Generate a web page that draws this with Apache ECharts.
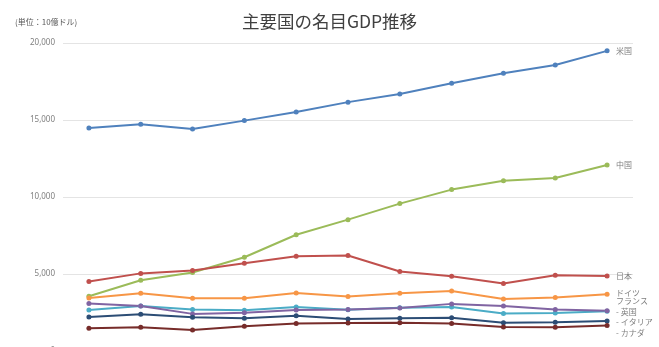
<!DOCTYPE html>
<html><head><meta charset="utf-8">
<script src="https://cdn.jsdelivr.net/npm/echarts@6/dist/echarts.min.js"></script>
<style>html,body{margin:0;padding:0;background:#fff}#c{width:659px;height:347px}</style>
</head><body><div id="c"></div>
<script>
const years = ['2007','2008','2009','2010','2011','2012','2013','2014','2015','2016','2017'];
const usa     = [14480,14720,14420,14960,15520,16160,16690,17390,18040,18570,19490];
const china   = [3550,4590,5100,6090,7550,8530,9570,10480,11060,11230,12080];
const japan   = [4520,5040,5230,5700,6160,6200,5160,4850,4390,4920,4870];
const germany = [3440,3750,3420,3420,3760,3540,3750,3890,3380,3480,3680];
const uk      = [3090,2920,2410,2480,2660,2700,2790,3060,2930,2690,2620];
const france  = [2660,2920,2690,2640,2860,2680,2810,2850,2440,2470,2580];
const italy   = [2210,2390,2190,2130,2290,2070,2130,2160,1830,1870,1940];
const canada  = [1470,1550,1370,1610,1790,1820,1840,1790,1560,1540,1650];
const yTicks = [0, 5000, 10000, 15000, 20000];

const seriesDefs = [
  {name:'米国', data:usa, color:'#4f81bd', off:[0,0]},
  {name:'中国', data:china, color:'#9bbb59', off:[0,0]},
  {name:'日本', data:japan, color:'#c0504d', off:[0,0]},
  {name:'ドイツ', data:germany, color:'#f79646', off:[0,-1]},
  {name:'フランス', data:france, color:'#4bacc6', off:[0,-10], label:'フランス'},
  {name:'英国', data:uk, color:'#8064a2', off:[0,1], label:'- 英国'},
  {name:'イタリア', data:italy, color:'#2c4d75', off:[0,1], label:'- イタリア'},
  {name:'カナダ', data:canada, color:'#772c2a', off:[0,7], label:'- カナダ'}
];

const chart = echarts.init(document.getElementById('c'));
chart.setOption({
  animation:false,
  title:[
    {text:'主要国の名目GDP推移', left:'center', top:8, textStyle:{fontSize:17.5, fontWeight:'normal', color:'#404040', fontFamily:'Noto Sans CJK JP'}},
    {text:'(単位：10億ドル)', left:10, top:13, textStyle:{fontSize:8, fontWeight:'normal', color:'#595959', fontFamily:'Noto Sans CJK JP'}}
  ],
  grid:{left:63, right:26, top:43, bottom:-4, outerBoundsMode:'none', containLabel:false},
  xAxis:{type:'category', data:years, boundaryGap:true,
    axisLine:{show:false}, axisTick:{show:false}, axisLabel:{show:false}},
  yAxis:{type:'value', min:yTicks[0], max:yTicks[yTicks.length-1], interval:5000,
    axisLine:{show:false}, axisTick:{show:false},
    axisLabel:{fontSize:8, color:'#7f7f7f', margin:8, fontFamily:'Noto Sans', formatter:v=>v.toLocaleString('en-US')},
    splitLine:{lineStyle:{color:'#e4e4e4', width:1}}},
  series: seriesDefs.map(s=>({
    name:s.name, type:'line', data:s.data, symbol:'circle', symbolSize:5,
    lineStyle:{color:s.color, width:2}, itemStyle:{color:s.color},
    endLabel:{show:true, formatter:s.label||s.name, distance:9, offset:s.off,
      fontSize:8, color:'#7f7f7f', fontFamily:'Noto Sans CJK JP'}
  }))
});
</script></body></html>
